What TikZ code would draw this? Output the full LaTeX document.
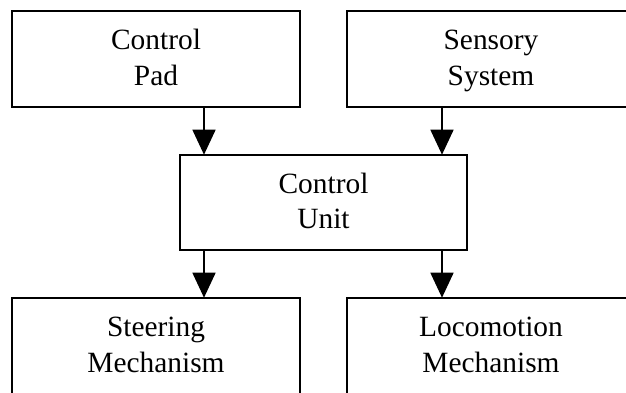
\documentclass[tikz,border=0pt]{standalone}
\usepackage{fontspec}
\setmainfont{Liberation Serif}
\usetikzlibrary{arrows.meta}
\begin{document}
\begin{tikzpicture}[x=1pt,y=-1pt,
  block/.style={draw, line width=2.2pt, rectangle, minimum width=288pt, minimum height=96pt,
    inner sep=0pt, align=center, text height=57.5pt, text depth=5.5pt,
    font=\fontsize{29.4}{35.5}\selectfont},
  arr/.style={line width=1.6pt, -{Triangle[length=25pt,width=23pt]}, shorten >=-0.8pt}]
\useasboundingbox (0,0) rectangle (626,392);
\clip (0,0) rectangle (626,392);

% blocks
\node[block] (pad) at (156,59) {Control\\Pad};
\node[block] (sensory) at (491,59) {Sensory\\System};
\node[block, minimum width=287pt, minimum height=95pt] (unit) at (323.5,202.5) {Control\\Unit};
\node[block] (steer) at (156,346) {Steering\\Mechanism};
\node[block] (loco) at (491,346) {Locomotion\\Mechanism};

% arrow columns
\coordinate (xl) at (204,0);
\coordinate (xr) at (442,0);

% connectors
\draw[arr] (pad.south -| xl) -- (unit.north -| xl);
\draw[arr] (sensory.south -| xr) -- (unit.north -| xr);
\draw[arr] (unit.south -| xl) -- (steer.north -| xl);
\draw[arr] (unit.south -| xr) -- (loco.north -| xr);
\end{tikzpicture}
\end{document}
